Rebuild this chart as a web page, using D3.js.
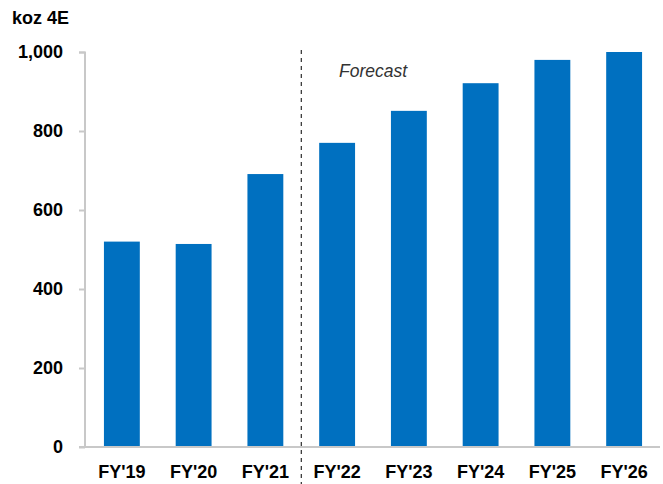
<!DOCTYPE html>
<html><head><meta charset="utf-8">
<script src="https://cdn.jsdelivr.net/npm/d3@7/dist/d3.min.js"></script>
<style>body{margin:0;background:#fff}svg{display:block}</style>
</head><body>
<svg id="c" width="663" height="484"></svg>
<script>
const categories = ["FY'19","FY'20","FY'21","FY'22","FY'23","FY'24","FY'25","FY'26"];
const values = [520, 514, 691, 770, 851, 921, 980, 1000];
const yTicks = [0, 200, 400, 600, 800, 1000];
const unitLabel = "koz 4E";
const forecastLabel = "Forecast";
const forecastStart = "FY'22";

const svg = d3.select("#c");
const font = "'Liberation Sans', Arial, sans-serif";
const x = d3.scaleBand().domain(categories).range([86, 660]).paddingInner(0.5).paddingOuter(0.25);
const y = d3.scaleLinear().domain([0, 1000]).range([447, 52]);

svg.append("text").attr("x", 12).attr("y", 24).text(unitLabel)
  .attr("font-family", font).attr("font-weight", "bold").attr("font-size", 18).attr("fill", "#000");

svg.selectAll("rect.bar").data(values).join("rect").attr("class", "bar")
  .attr("x", (d, i) => x(categories[i])).attr("width", x.bandwidth())
  .attr("y", d => y(d)).attr("height", d => y(0) - y(d)).attr("fill", "#0070c0");

const ya = svg.append("g").attr("transform", "translate(85,0)")
  .call(d3.axisLeft(y).tickValues(yTicks).tickSize(6).tickPadding(16).tickFormat(d3.format(",")));
ya.select(".domain").attr("stroke", "#c8c8c8").attr("stroke-width", 2).attr("d", "M-6,52.5H0V447");
ya.selectAll(".tick line").attr("stroke", "#c8c8c8").attr("stroke-width", 2);
ya.selectAll(".tick text").attr("font-family", font).attr("font-weight", "bold").attr("font-size", 18).attr("fill", "#000");

const xa = svg.append("g").attr("transform", "translate(0,447)")
  .call(d3.axisBottom(x).tickSize(0).tickPadding(18));
xa.select(".domain").attr("stroke", "#c8c8c8").attr("stroke-width", 2).attr("d", "M79,0H660");
xa.selectAll(".tick text").attr("font-family", font).attr("font-weight", "bold").attr("font-size", 18).attr("fill", "#000");

const i0 = categories.indexOf(forecastStart);
const dx = (x(categories[i0 - 1]) + x.bandwidth() + x(categories[i0])) / 2;
svg.append("line").attr("x1", dx).attr("x2", dx).attr("y1", 50).attr("y2", 484)
  .attr("stroke", "#000").attr("stroke-width", 1).attr("stroke-dasharray", "4,4");

svg.append("text").attr("x", 339).attr("y", 77).text(forecastLabel)
  .attr("font-family", font).attr("font-style", "italic").attr("font-size", 17.5).attr("fill", "#333");
</script>
</body></html>
